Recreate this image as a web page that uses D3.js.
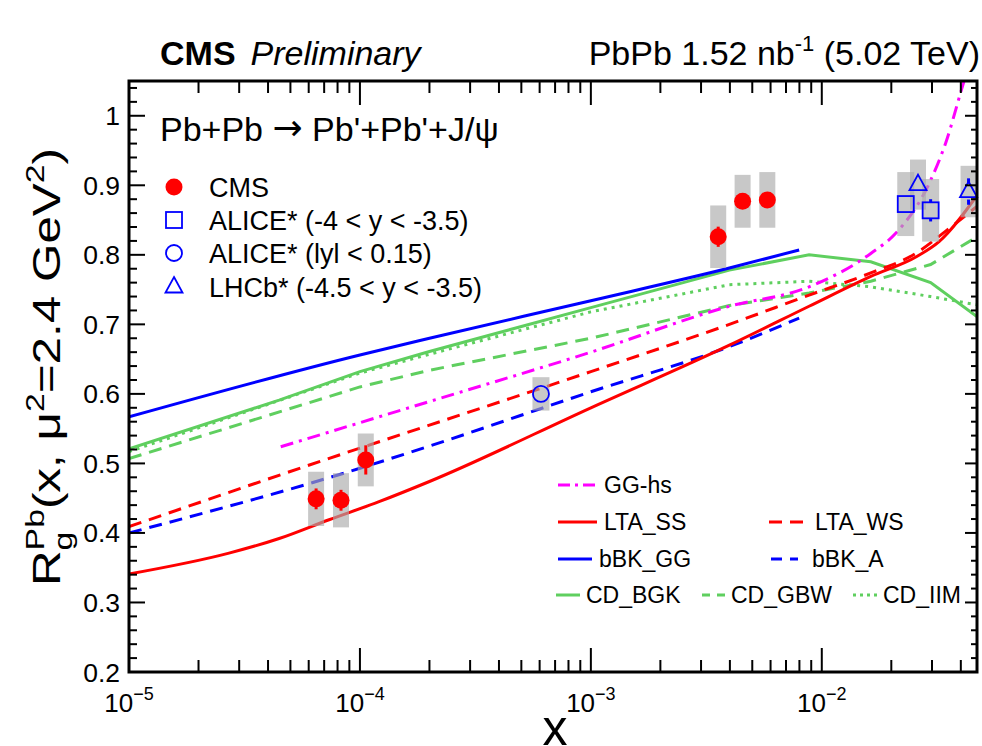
<!DOCTYPE html>
<html>
<head>
<meta charset="utf-8">
<script src="https://cdn.jsdelivr.net/npm/d3@7"></script>
<style>
  body { margin: 0; background: #fff; }
  svg { font-family: "Liberation Sans", Arial, Helvetica, sans-serif; }
</style>
</head>
<body>
<div id="chart"></div>
<script>
// data
const cmsX = [6.46e-5, 8.28e-5, 1.06e-4, 3.56e-3, 4.54e-3, 5.81e-3];
const cmsY = [0.449, 0.447, 0.505, 0.826, 0.877, 0.879];
const cmsStat = [0.015, 0.015, 0.021, 0.0145, 0.005, 0.005];
const cmsSys = [0.039, 0.039, 0.038, 0.045, 0.038, 0.040];

const aliceFwdX = [0.0231, 0.0296];
const aliceFwdY = [0.873, 0.864];
const aliceFwdStat = [0.010, 0.016];
const aliceFwdSys = [0.046, 0.045];

const aliceCenX = [6.08e-4];
const aliceCenY = [0.600];
const aliceCenStat = [0.008];
const aliceCenSys = [0.024];

const lhcbX = [0.0261, 0.0432];
const lhcbY = [0.901, 0.891];
const lhcbStat = [0.010, 0.019];
const lhcbSys = [0.036, 0.037];

// model curves
const ggHsX = [4.54e-5, 2.0e-4, 1e-3, 3.98e-3, 8.81e-3, 1.63e-2, 2.09e-2, 2.92e-2, 3.44e-2, 4.13e-2, 4.71e-2];
const ggHsY = [0.524, 0.589, 0.660, 0.726, 0.754, 0.802, 0.831, 0.903, 0.961, 1.05, 1.11];
const ltaSsX = [1e-5, 2.71e-5, 4.47e-5, 7.35e-5, 1.21e-4, 2.0e-4, 1e-3, 3.98e-3, 8.81e-3, 1.63e-2, 2.59e-2, 3.22e-2, 4.71e-2];
const ltaSsY = [0.341, 0.371, 0.392, 0.419, 0.445, 0.474, 0.580, 0.670, 0.726, 0.769, 0.798, 0.819, 0.886];
const ltaWsX = [1e-5, 1e-4, 2e-4, 1e-3, 3.98e-3, 8.81e-3, 1.63e-2, 2.55e-2, 3.44e-2, 4.71e-2];
const ltaWsY = [0.409, 0.522, 0.555, 0.632, 0.700, 0.742, 0.774, 0.802, 0.834, 0.870];
const bbkGgX = [1e-5, 1e-4, 2e-4, 1e-3, 3.98e-3, 7.98e-3];
const bbkGgY = [0.567, 0.656, 0.680, 0.734, 0.781, 0.807];
const bbkAX = [1e-5, 1e-4, 2e-4, 1e-3, 3.98e-3, 7.98e-3];
const bbkAY = [0.400, 0.493, 0.525, 0.603, 0.668, 0.709];
const cdBgkX = [1e-5, 4.47e-5, 1e-4, 2e-4, 1e-3, 3.98e-3, 8.81e-3, 1.63e-2, 2.96e-2, 4.71e-2];
const cdBgkY = [0.521, 0.591, 0.632, 0.661, 0.724, 0.778, 0.800, 0.790, 0.760, 0.711];
const cdGbwX = [1e-5, 1e-4, 2e-4, 1e-3, 3.98e-3, 8.81e-3, 1.63e-2, 2.96e-2, 4.71e-2];
const cdGbwY = [0.507, 0.610, 0.634, 0.680, 0.727, 0.745, 0.762, 0.786, 0.826];
const cdIimX = [1e-5, 1e-4, 2e-4, 1e-3, 3.98e-3, 8.81e-3, 1.63e-2, 2.96e-2, 4.71e-2];
const cdIimY = [0.517, 0.630, 0.657, 0.718, 0.757, 0.762, 0.754, 0.740, 0.728];

const yTicks = [0.2, 0.3, 0.4, 0.5, 0.6, 0.7, 0.8, 0.9, 1.0];
const xTicks = [1e-5, 1e-4, 1e-3, 1e-2];

const width = 982;
const height = 746;
const mLeft = 129, mRight = 977, mTop = 81, mBottom = 672;
const green = "#5fcf5f";

const svg = d3.select("#chart")
  .append("svg")
  .attr("width", width)
  .attr("height", height);

const x = d3.scaleLog().domain([1e-5, 0.047]).range([mLeft, mRight]);
const y = d3.scaleLinear().domain([0.2, 1.05]).range([mBottom, mTop]);

svg.append("clipPath").attr("id", "plot-clip")
  .append("rect")
  .attr("x", mLeft).attr("y", mTop)
  .attr("width", mRight - mLeft).attr("height", mBottom - mTop);

// curves
const curves = [
  {xs: cdIimX, ys: cdIimY, color: green, dash: "3,5"},
  {xs: cdGbwX, ys: cdGbwY, color: green, dash: "13,8"},
  {xs: cdBgkX, ys: cdBgkY, color: green, dash: null},
  {xs: bbkAX, ys: bbkAY, color: "#0000ff", dash: "13,8", smooth: true},
  {xs: bbkGgX, ys: bbkGgY, color: "#0000ff", dash: null, smooth: true},
  {xs: ltaWsX, ys: ltaWsY, color: "#ff0000", dash: "13,8", smooth: true},
  {xs: ltaSsX, ys: ltaSsY, color: "#ff0000", dash: null, smooth: true},
  {xs: ggHsX, ys: ggHsY, color: "#ff00ff", dash: "13,6,3,6", smooth: true}
];

const curveG = svg.append("g").attr("clip-path", "url(#plot-clip)");
curves.forEach(c => {
  const line = d3.line()
    .x(d => x(d[0]))
    .y(d => y(d[1]))
    .curve(c.smooth ? d3.curveMonotoneX : d3.curveLinear);
  curveG.append("path")
    .datum(d3.zip(c.xs, c.ys))
    .attr("d", line)
    .attr("fill", "none")
    .attr("stroke", c.color)
    .attr("stroke-width", 3)
    .attr("stroke-dasharray", c.dash);
});

// data sets
const sets = [
  {xs: cmsX, ys: cmsY, stat: cmsStat, sys: cmsSys, shape: "dot", color: "#ff0000", bw: 16},
  {xs: aliceFwdX, ys: aliceFwdY, stat: aliceFwdStat, sys: aliceFwdSys, shape: "square", color: "#0000ff", bw: 17},
  {xs: aliceCenX, ys: aliceCenY, stat: aliceCenStat, sys: aliceCenSys, shape: "circle", color: "#0000ff", bw: 17},
  {xs: lhcbX, ys: lhcbY, stat: lhcbStat, sys: lhcbSys, shape: "triangle", color: "#0000ff", bw: 16}
];

const boxG = svg.append("g").attr("clip-path", "url(#plot-clip)");
const markG = svg.append("g");

function drawMarker(g, shape, cx, cy, color) {
  if (shape === "dot") {
    g.append("circle").attr("cx", cx).attr("cy", cy).attr("r", 8.5).attr("fill", color);
  } else if (shape === "circle") {
    g.append("circle").attr("cx", cx).attr("cy", cy).attr("r", 8)
      .attr("fill", "none").attr("stroke", color).attr("stroke-width", 1.8);
  } else if (shape === "square") {
    g.append("rect").attr("x", cx - 8).attr("y", cy - 8).attr("width", 16).attr("height", 16)
      .attr("fill", "none").attr("stroke", color).attr("stroke-width", 1.8);
  } else {
    g.append("path")
      .attr("d", `M${cx},${cy - 10}L${cx + 8.5},${cy + 5.5}L${cx - 8.5},${cy + 5.5}Z`)
      .attr("fill", "none").attr("stroke", color).attr("stroke-width", 1.8);
  }
}

sets.forEach(s => {
  s.xs.forEach((xv, i) => {
    const cx = x(xv), cy = y(s.ys[i]);
    boxG.append("rect")
      .attr("x", cx - s.bw / 2)
      .attr("width", s.bw)
      .attr("y", y(s.ys[i] + s.sys[i]))
      .attr("height", y(s.ys[i] - s.sys[i]) - y(s.ys[i] + s.sys[i]))
      .attr("fill", "#aaaaaa")
      .attr("fill-opacity", 0.65);
    // stat bar drawn outside the marker
    const half = s.shape === "dot" ? 0 : 8;
    const y1 = y(s.ys[i] + s.stat[i]), y2 = y(s.ys[i] - s.stat[i]);
    if (cy - y1 > half) {
      markG.append("line").attr("x1", cx).attr("x2", cx).attr("y1", y1).attr("y2", cy - half)
        .attr("stroke", s.color).attr("stroke-width", 3);
      markG.append("line").attr("x1", cx).attr("x2", cx).attr("y1", cy + half).attr("y2", y2)
        .attr("stroke", s.color).attr("stroke-width", 3);
    }
    drawMarker(markG, s.shape, cx, cy, s.color);
  });
});

// axes frame and ticks
const axisG = svg.append("g").attr("stroke", "#000");
axisG.append("rect")
  .attr("x", mLeft).attr("y", mTop)
  .attr("width", mRight - mLeft).attr("height", mBottom - mTop)
  .attr("fill", "none").attr("stroke-width", 3);

const xMinor = [];
for (let d = -5; d <= -2; d++) {
  for (let k = 1; k <= 9; k++) {
    const v = k * Math.pow(10, d);
    if (v <= 0.047) xMinor.push({v, major: k === 1});
  }
}
xMinor.forEach(t => {
  const px = x(t.v);
  const len = t.major ? 24 : 12;
  axisG.append("line").attr("x1", px).attr("x2", px).attr("y1", mBottom).attr("y2", mBottom - len).attr("stroke-width", 2);
  axisG.append("line").attr("x1", px).attr("x2", px).attr("y1", mTop).attr("y2", mTop + len).attr("stroke-width", 2);
});

d3.range(10, 53, 1).forEach(i => {
  const v = i / 50;
  if (v > 1.05 + 1e-9) return;
  const major = i % 5 === 0;
  const py = y(v);
  axisG.append("line").attr("x1", mLeft).attr("x2", mLeft + (major ? 16 : 8)).attr("y1", py).attr("y2", py).attr("stroke-width", 2);
  axisG.append("line").attr("x1", mRight).attr("x2", mRight - (major ? 12 : 6)).attr("y1", py).attr("y2", py).attr("stroke-width", 2);
});

// tick labels
svg.append("g").selectAll("text")
  .data(yTicks)
  .join("text")
  .attr("x", mLeft - 9)
  .attr("y", d => y(d))
  .attr("dy", "0.36em")
  .attr("text-anchor", "end")
  .style("font-size", "26.5px")
  .text(d => d === 1 ? "1" : d.toFixed(1));

const xl = svg.append("g").selectAll("text")
  .data(xTicks)
  .join("text")
  .attr("x", d => x(d))
  .attr("y", 712)
  .attr("text-anchor", "middle")
  .style("font-size", "26px");
xl.append("tspan").text("10");
xl.append("tspan").attr("dy", -12).style("font-size", "18px").text(d => "\u2212" + Math.round(-Math.log10(d)));

// axis titles
svg.append("text")
  .attr("x", 555).attr("y", 745)
  .attr("text-anchor", "middle")
  .style("font-size", "50px")
  .text("x");

const yt = svg.append("text")
  .attr("transform", "translate(60,367) rotate(-90) scale(1.3,1)")
  .attr("text-anchor", "middle")
  .style("font-size", "38px");
yt.append("tspan").text("R");
yt.append("tspan").attr("dy", -16).style("font-size", "26px").text("Pb");
yt.append("tspan").attr("dx", -31.8).attr("dy", 28).style("font-size", "26px").text("g");
yt.append("tspan").attr("dx", 17.3).attr("dy", -12).text("(x, \u03bc");
yt.append("tspan").attr("dy", -16).style("font-size", "26px").text("2");
yt.append("tspan").attr("dy", 16).text("=2.4 GeV");
yt.append("tspan").attr("dy", -16).style("font-size", "26px").text("2");
yt.append("tspan").attr("dy", 16).text(")");

// header
const cms = svg.append("text").attr("x", 160).attr("y", 65).style("font-size", "34px");
cms.append("tspan").style("font-weight", "bold").text("CMS");
cms.append("tspan").attr("dx", 15).style("font-style", "italic").text("Preliminary");

const lumi = svg.append("text").attr("x", 980).attr("y", 65).attr("text-anchor", "end").style("font-size", "34px");
lumi.append("tspan").text("PbPb 1.52 nb");
lumi.append("tspan").attr("dy", -14).style("font-size", "22px").text("-1");
lumi.append("tspan").attr("dy", 14).text(" (5.02 TeV)");

const reaction = svg.append("text").attr("x", 160).attr("y", 141).style("font-size", "34px");
reaction.append("tspan").text("Pb+Pb ");
reaction.append("tspan").style("font-family", "DejaVu Sans").style("font-size", "36px").attr("dy", -1).text("\u2192");
reaction.append("tspan").attr("dy", 1).text(" Pb'+Pb'+J/\u03c8");

// legend for data
const dataLegend = [
  {label: "CMS", shape: "dot", color: "#ff0000", y: 187},
  {label: "ALICE* (-4 < y < -3.5)", shape: "square", color: "#0000ff", y: 220},
  {label: "ALICE* (lyl < 0.15)", shape: "circle", color: "#0000ff", y: 253},
  {label: "LHCb* (-4.5 < y < -3.5)", shape: "triangle", color: "#0000ff", y: 287}
];
const lg1 = svg.append("g");
dataLegend.forEach(d => {
  drawMarker(lg1, d.shape, 174, d.y, d.color);
  lg1.append("text").attr("x", 209).attr("y", d.y).attr("dy", "0.36em")
    .style("font-size", "27px").text(d.label);
});

// legend for models
const modelLegend = [
  {label: "GG-hs", color: "#ff00ff", dash: "12,5,3,5", x1: 558, x2: 597, tx: 604, y: 485},
  {label: "LTA_SS", color: "#ff0000", dash: null, x1: 558, x2: 597, tx: 604, y: 522},
  {label: "LTA_WS", color: "#ff0000", dash: "13,8", x1: 769, x2: 807, tx: 815, y: 522},
  {label: "bBK_GG", color: "#0000ff", dash: null, x1: 558, x2: 592, tx: 599, y: 559},
  {label: "bBK_A", color: "#0000ff", dash: "11,8", x1: 771, x2: 798, tx: 812, y: 559},
  {label: "CD_BGK", color: green, dash: null, x1: 556, x2: 580, tx: 586, y: 595},
  {label: "CD_GBW", color: green, dash: "8,7", x1: 702, x2: 725, tx: 731, y: 595},
  {label: "CD_IIM", color: green, dash: "3,4", x1: 853, x2: 877, tx: 883, y: 595}
];
const lg2 = svg.append("g");
modelLegend.forEach(d => {
  lg2.append("line").attr("x1", d.x1).attr("x2", d.x2).attr("y1", d.y).attr("y2", d.y)
    .attr("stroke", d.color).attr("stroke-width", 3).attr("stroke-dasharray", d.dash);
  lg2.append("text").attr("x", d.tx).attr("y", d.y).attr("dy", "0.36em")
    .style("font-size", "23px").text(d.label);
});
</script>
</body>
</html>
